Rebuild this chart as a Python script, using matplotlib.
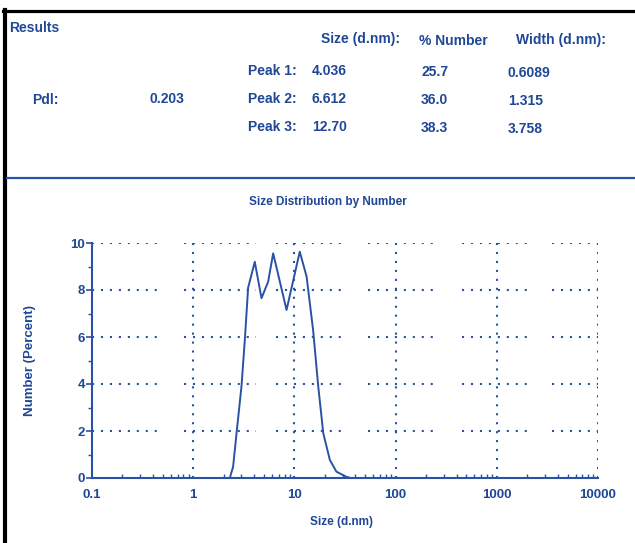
import numpy as np
import matplotlib.pyplot as plt
from matplotlib.lines import Line2D

# size distribution curve
size_nm = [2.3, 2.48, 2.68, 3.0, 3.24, 3.49, 4.06, 4.73, 5.5, 6.17, 8.36,
           11.3, 13.2, 15.3, 17.2, 19.3, 22.4, 26.0, 32.6, 36.0]
number_pct = [0.0, 0.48, 1.9, 3.9, 5.9, 8.1, 9.2, 7.65, 8.35, 9.56, 7.15,
              9.63, 8.57, 6.3, 3.9, 1.9, 0.77, 0.27, 0.05, 0.0]

pdi = "0.203"
peak_names = ["Peak 1:", "Peak 2:", "Peak 3:"]
peak_size = ["4.036", "6.612", "12.70"]
peak_number = ["25.7", "36.0", "38.3"]
peak_width = ["0.6089", "1.315", "3.758"]

xticks_val = [0.1, 1, 10, 100, 1000, 10000]
xticks_lab = ["0.1", "1", "10", "100", "1000", "10000"]
yticks_val = [0, 2, 4, 6, 8, 10]

blue = '#2a52a3'
tblue = '#1f4796'
plt.rcParams['font.family'] = ['Liberation Sans', 'DejaVu Sans']

W, H = 635, 543
fig = plt.figure(figsize=(W/100, H/100), dpi=100)

def px(x, y):
    return x/W, 1-y/H

def txt(x, y, s, **kw):
    kw.setdefault('fontsize', 10)
    kw.setdefault('color', tblue)
    kw.setdefault('fontweight', 'bold')
    kw.setdefault('va', 'center')
    fig.text(*px(x, y), s, **kw)

# frame lines
fig.add_artist(Line2D([px(3,0)[0], 1], [px(0,11)[1]]*2, color='black', lw=2.3))
fig.add_artist(Line2D([px(5,0)[0]]*2, [px(0,10)[1], 0], color='black', lw=3))
fig.add_artist(Line2D([px(7,0)[0], 1], [px(0,178)[1]]*2, color=blue, lw=1.6))

# results table
txt(9, 28, "Results")
txt(321, 39, "Size (d.nm):")
txt(419, 41, "% Number")
txt(516, 40, "Width (d.nm):")
txt(32, 100, "Pdl:")
txt(150, 99, pdi)
rows_y = [71, 99, 127]
for i in range(3):
    y = rows_y[i]
    txt(248, y, peak_names[i])
    txt(312, y, peak_size[i])
    txt(421, y + 1, peak_number[i])
    txt(508, y + 2, peak_width[i])

txt(328, 202, "Size Distribution by Number", ha='center', fontsize=8.5)

# plot
l, r, b, t = 92/W, 598/W, 1-478/H, 1-243/H
ax = fig.add_axes([l, b, r-l, t-b])
ax.set_xscale('log')
ax.set_xlim(0.1, 10000)
ax.set_ylim(0, 10)

dots = (0, (1, 3.3))
# broken horizontal dotted grid
segs = [(-1.0, -0.33), (-0.09, 0.62), (0.82, 1.51), (1.73, 2.42), (2.66, 3.35), (3.55, 4.0)]
for yv in yticks_val[1:]:
    for a, c in segs:
        ax.plot([10**a, 10**c], [yv, yv], color=blue, lw=1.5, ls=dots, zorder=1)
for xv in xticks_val[1:]:
    ax.plot([xv, xv], [0, 10], color=blue, lw=1.5, ls=dots, zorder=1)

ax.plot(size_nm, number_pct, color=blue, lw=1.4, zorder=3)

for s in ['top', 'right']:
    ax.spines[s].set_visible(False)
for s in ['left', 'bottom']:
    ax.spines[s].set_color(blue)
    ax.spines[s].set_linewidth(1.5)

ax.set_xticks(xticks_val)
ax.set_xticklabels(xticks_lab)
ax.set_yticks(yticks_val)
ax.set_yticks([1, 3, 5, 7, 9], minor=True)
ax.tick_params(axis='x', which='major', length=0, pad=8, labelsize=9.5, labelcolor=tblue)
ax.tick_params(axis='x', which='minor', direction='in', length=3, color=blue, width=1)
ax.tick_params(axis='y', which='major', length=4, width=1.2, color=blue, pad=1,
               labelsize=9.5, labelcolor=tblue)
ax.tick_params(axis='y', which='minor', length=3, width=1, color=blue)
for lab in ax.get_xticklabels() + ax.get_yticklabels():
    lab.set_fontweight('bold')
ax.set_facecolor('none')

txt(30, 360, "Number (Percent)", rotation=90, ha='center', fontsize=9.5)
txt(342, 522, "Size (d.nm)", ha='center', fontsize=8.5)

fig.savefig('out.png', dpi=100)
